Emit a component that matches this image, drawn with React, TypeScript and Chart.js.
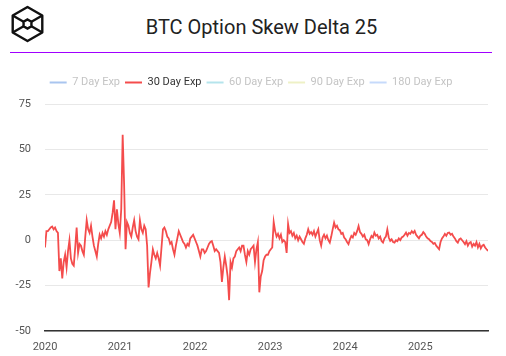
import React, { useEffect, useRef } from "react";
import { Chart, registerables } from "chart.js";

Chart.register(...registerables);

const chartTitle = "BTC Option Skew Delta 25";
const seriesNames = ["7 Day Exp", "30 Day Exp", "60 Day Exp", "90 Day Exp", "180 Day Exp"];
const seriesColors = ["#a9c5ef", "#f44c4c", "#b5e4ec", "#eef1c6", "#c6dafb"];
const seriesVisible = [false, true, false, false, false];
const startYear = 2020;
const stepDays = 7;
const xTickYears = [2020, 2021, 2022, 2023, 2024, 2025];
const yTickValues = [-50, -25, 0, 25, 50, 75];

// 30 Day Exp skew, one reading per week from 2020-01-01
const skew30 = [
  -4, 5, 5, 6, 7, 7.5, 6, 7, 5, 4,
  -17, -10, -21, -12, -8, -15, -6, 0, -10, -13,
  -14, -4, 7, -7, -2, -3, -6, -8, 2, 11,
  6, 4, 8, 2, -3, -6, -9, -2, 3, 1,
  4, 2, 5, 3, 6, 8, 10, 15, 22, 6,
  17, 9, 4, 17, 58, 31, -5, 10, 8, 4,
  2, 7, 11, 5, 2, 0.5, 11, 6, 4, 8,
  6, -3, -26, -18, -12, -5, -8, -10, -7, -10,
  -14, -4, 6, 7, 5, 2, 1, -2, -1, -5,
  -8, -3, 1, 5, 3, 1, -1, -2, -4, -2,
  -3, 1, 2, 3, 1, -1, -3, -6, -9, -5,
  -5, -7, -6, -4, -2, -1, -0.5, -3, -6, -5,
  -6, -7, -12, -23, -15, -9, -14, -20, -33, -12,
  -15, -10, -9, -6, -5, -4, -6, -3, -3, -8,
  -12, -6, -8, -5, -4, -3, -12, -5, -1, -28.7,
  -20, -17, -11, -9, -8, -8, -6, -5, -4, 10,
  5, 2, 3.5, 1, 3, -1, 0, -1, -7, 9,
  4, 5, 2.5, 4, 1, 2.5, 0, 2, 0.5, -1,
  -2, 1, 3, 6, 3.5, 4.5, 3, 5, 2, 4,
  6, 0, -3, 1.5, 3, 1, 2.5, 0, -1.3, 2,
  6, 9.7, 7, 8, 6, 5.5, 3.5, 4, 1.5, 0.5,
  -1, -2.2, 0.5, 2.4, 1.5, 4, 3, 5, 7.8, 4.5,
  3.5, 2, 3, 0.5, 0, -2.2, 0.5, 2.4, 1.5, 4.2,
  2.5, 3, 1, 2, -0.5, -1.3, 1, 2, 6, 1.5,
  -0.4, 0.5, -1, -1.3, 0, -0.5, 1, 0, 1.5, 2,
  3, 4.2, 2.5, 4, 3.5, 5, 4, 5.1, 3, 2,
  1, 2.5, 3, 4.5, 3.5, 2, 1, 0.5, -0.5, -1,
  -2, -1.5, -3, -4, -5, -1, 1, 2, 3.5, 2.4,
  4, 4.2, 3, 3.5, 2, 1, -0.5, -1.3, 0.5, 1,
  0, -1, -2.2, -0.5, -3, -1.5, -1, -3.5, -2, -3,
  -1, -4, -2, -4.5, -3, -2.5, -4, -5, -5.9,
];

const toYear = (i: number) => startYear + (i * stepDays) / 365.25;

function Logo() {
  const cx = 27.5, cy = 24, R = 17, r = 4.5;
  const outer = [
    [cx, cy - R], [cx + R * 0.87, cy - R / 2], [cx + R * 0.87, cy + R / 2],
    [cx, cy + R], [cx - R * 0.87, cy + R / 2], [cx - R * 0.87, cy - R / 2],
  ];
  const inner = [
    [cx, cy - r], [cx + r * 0.87, cy - r / 2], [cx + r * 0.87, cy + r / 2],
    [cx, cy + r], [cx - r * 0.87, cy + r / 2], [cx - r * 0.87, cy - r / 2],
  ];
  const pts = (a: number[][]) => a.map((p) => p.join(",")).join(" ");
  return (
    <svg width={50} height={48} style={{ position: "absolute", left: 0, top: 0 }}>
      <polygon points={pts(outer)} fill="none" stroke="#111" strokeWidth={2.4} strokeLinejoin="round" />
      <polygon points={pts(inner)} fill="none" stroke="#111" strokeWidth={2.4} />
      {[1, 2, 4, 5].map((k) => (
        <line key={k} x1={inner[k][0]} y1={inner[k][1]} x2={outer[k][0]} y2={outer[k][1]} stroke="#111" strokeWidth={2.4} />
      ))}
    </svg>
  );
}

const legendSpacer = {
  id: "legendSpacer",
  beforeLayout(chart: any) {
    const lg = chart.legend;
    if (lg && !lg._spaced) {
      const orig = lg.fit.bind(lg);
      lg.fit = function () {
        orig();
        this.height += 6;
      };
      lg._spaced = true;
    }
  },
};

export default function App() {
  const ref = useRef<HTMLCanvasElement | null>(null);

  useEffect(() => {
    if (!ref.current) return;
    Chart.defaults.font.family = "Roboto";
    const datasets = seriesNames.map((name, k) => ({
      label: name,
      data: k === 1 ? skew30.map((v, i) => ({ x: toYear(i), y: v })) : [],
      borderColor: seriesColors[k],
      backgroundColor: seriesColors[k],
      borderWidth: 1.8,
      pointRadius: 0,
      tension: 0,
      hidden: !seriesVisible[k],
    }));
    const chart = new Chart(ref.current, {
      type: "line",
      data: { datasets },
      plugins: [legendSpacer],
      options: {
        animation: false,
        responsive: false,
        layout: { padding: { left: 14, right: 18, top: 16, bottom: 0 } },
        plugins: {
          tooltip: { enabled: false },
          legend: {
            position: "top",
            labels: {
              boxWidth: 17,
              boxHeight: 2,
              padding: 5,
              font: { size: 11, family: "Roboto" },
              generateLabels: (c: any) =>
                c.data.datasets.map((ds: any, i: number) => {
                  const hidden = !c.isDatasetVisible(i);
                  return {
                    text: ds.label,
                    fillStyle: ds.borderColor,
                    strokeStyle: ds.borderColor,
                    lineWidth: 0,
                    hidden: false,
                    fontColor: hidden ? "#c4c4c4" : "#333",
                    datasetIndex: i,
                  };
                }),
            },
          },
        },
        scales: {
          x: {
            type: "linear",
            min: startYear,
            max: toYear(skew30.length - 1),
            afterFit: (s: any) => { s.height = 25; },
            afterBuildTicks: (s: any) => { s.ticks = xTickYears.map((v) => ({ value: v })); },
            grid: { display: false, drawTicks: false },
            border: { display: true, color: "#333", width: 1.5 },
            ticks: {
              autoSkip: false,
              maxRotation: 0,
              padding: 10,
              color: "#555",
              font: { size: 11, family: "Roboto" },
              callback: (v: any) => String(v),
            },
          },
          y: {
            type: "linear",
            min: -50,
            max: 75,
            afterFit: (s: any) => { s.width = 31; },
            afterBuildTicks: (s: any) => { s.ticks = yTickValues.map((v) => ({ value: v })); },
            grid: { color: "#e8e8e8", lineWidth: 1, drawTicks: false },
            border: { display: false },
            ticks: {
              padding: 14,
              color: "#555",
              font: { size: 11, family: "Roboto" },
              callback: (v: any) => String(v),
            },
          },
        },
      },
    } as any);
    return () => chart.destroy();
  }, []);

  return (
    <div style={{ position: "absolute", left: 0, top: 0, width: 506, height: 356, background: "#fff", overflow: "hidden" }}>
      <Logo />
      <div
        style={{
          position: "absolute",
          left: 261.5,
          top: 17,
          transform: "translateX(-50%)",
          whiteSpace: "nowrap",
          fontFamily: "Roboto",
          fontSize: 20,
          lineHeight: "20px",
          color: "#222",
        }}
      >
        {chartTitle}
      </div>
      <div style={{ position: "absolute", left: 10, top: 51.5, width: 482, height: 1.2, background: "#a000ff" }} />
      <div style={{ position: "absolute", left: 0, top: 56, width: 506, height: 300 }}>
        <canvas ref={ref} width={506} height={300} style={{ width: 506, height: 300, display: "block" }} />
      </div>
    </div>
  );
}
